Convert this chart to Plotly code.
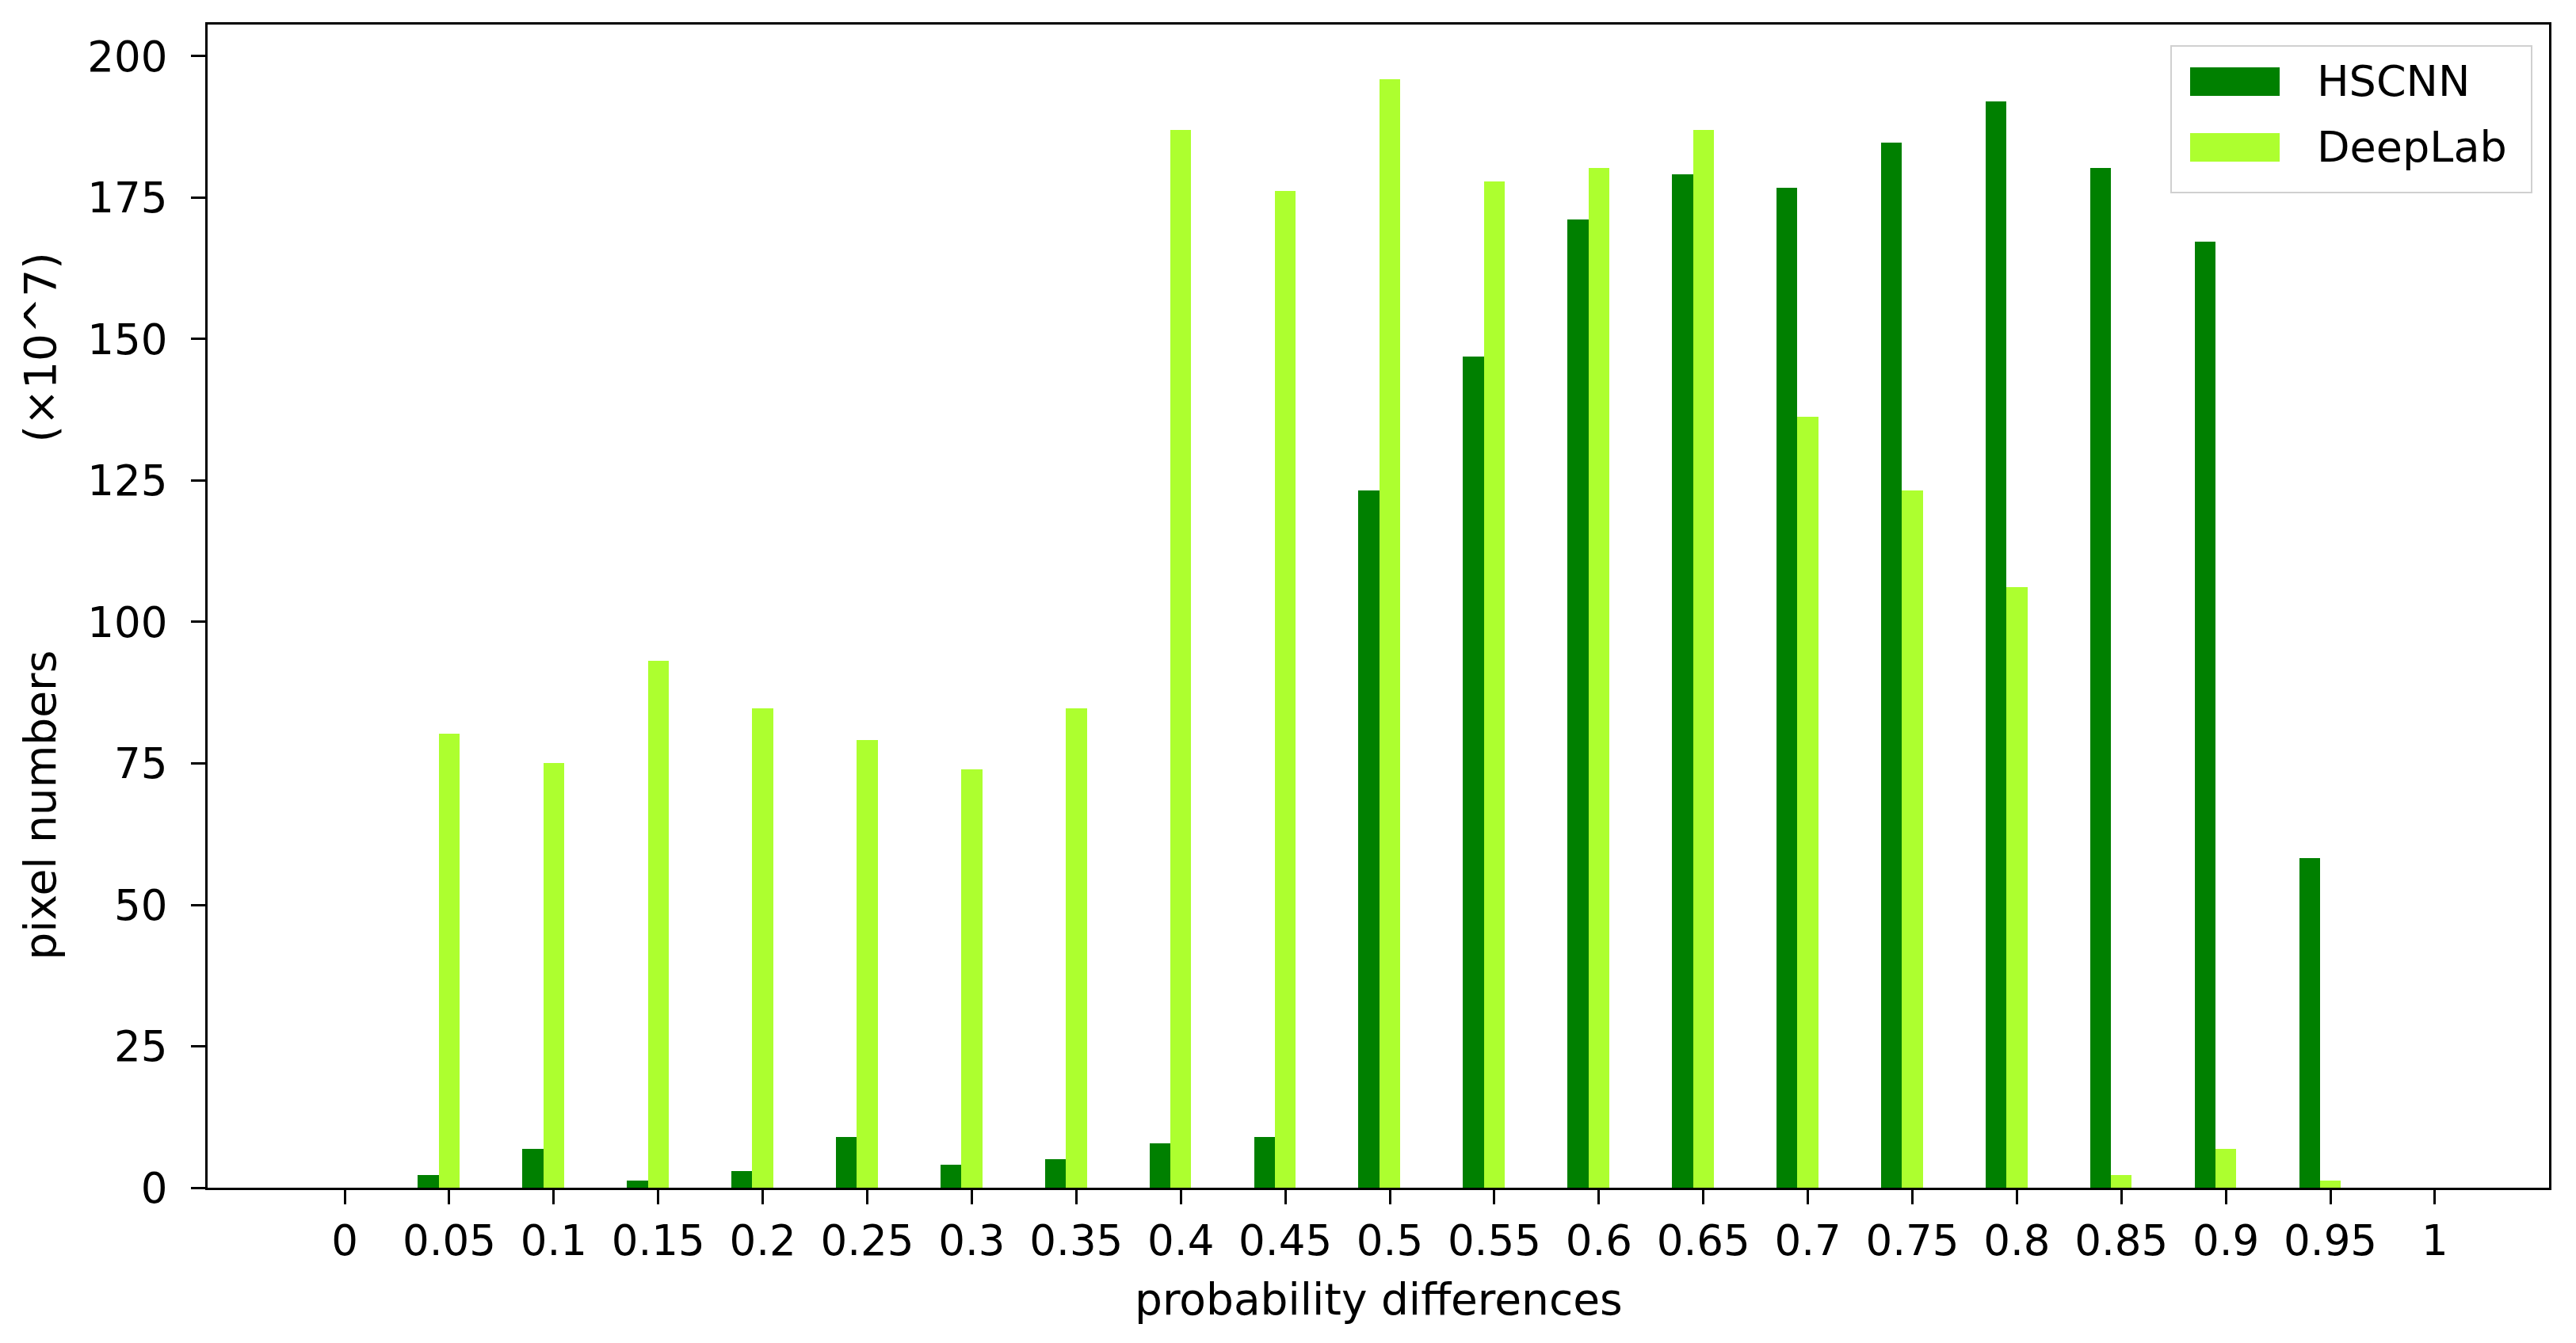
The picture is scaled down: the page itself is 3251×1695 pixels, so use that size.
#!/usr/bin/env python3
# probability differences histogram, HSCNN vs DeepLab
import plotly.graph_objects as go

# ---- data ----
bins = [0, 0.05, 0.1, 0.15, 0.2, 0.25, 0.3, 0.35, 0.4, 0.45, 0.5,
        0.55, 0.6, 0.65, 0.7, 0.75, 0.8, 0.85, 0.9, 0.95, 1]
bin_labels = ["0", "0.05", "0.1", "0.15", "0.2", "0.25", "0.3", "0.35", "0.4", "0.45", "0.5",
              "0.55", "0.6", "0.65", "0.7", "0.75", "0.8", "0.85", "0.9", "0.95", "1"]
hscnn = [0, 2.3, 6.8, 1.2, 2.9, 9.0, 4.0, 5.1, 7.9, 9.0, 123.2,
         146.9, 171.1, 179.1, 176.8, 184.7, 192.0, 180.2, 167.2, 58.2, 0]
deeplab = [0, 80.3, 75.1, 93.2, 84.7, 79.1, 74.0, 84.7, 187.0, 176.2, 196.0,
           177.9, 180.2, 187.0, 136.3, 123.2, 106.1, 2.3, 6.8, 1.2, 0]
y_ticks = [0, 25, 50, 75, 100, 125, 150, 175, 200]
series_names = ["HSCNN", "DeepLab"]

# page body has an 8px margin, so everything is shifted by OFF
OFF = 8
W, H = 3251 - OFF, 1695 - OFF
L, R, T, B = 262 - OFF, 3217 - OFF, 31 - OFF, 1499 - OFF   # plot area in pixels
FONT = "DejaVu Sans"
TICK_FS = 53
LAB_FS = 55
LEG_FS = 54
DARK = "#008000"
LIGHT = "#adff2f"


def px(x, y):
    """reference pixel position -> paper coords"""
    return (x - OFF - L) / (R - L), (B - (y - OFF)) / (B - T)


def main():
    bar_w = 0.01

    fig = go.Figure()
    fig.add_trace(go.Bar(x=bins, y=hscnn, width=bar_w, offset=-1.5 * bar_w,
                         marker=dict(color=DARK, line=dict(width=0)),
                         name=series_names[0], showlegend=False))
    fig.add_trace(go.Bar(x=bins, y=deeplab, width=bar_w, offset=-0.5 * bar_w,
                         marker=dict(color=LIGHT, line=dict(width=0)),
                         name=series_names[1], showlegend=False))

    #-------- legend drawn by hand (matplotlib style patches) --------
    x0, y0 = px(2740, 58)
    x1, y1 = px(3195, 243)
    fig.add_shape(type="rect", xref="paper", yref="paper", x0=x0, y0=y1, x1=x1, y1=y0,
                  line=dict(color="#d0d0d0", width=2), fillcolor="white", layer="above")
    for name, col, cy in zip(series_names, [DARK, LIGHT], [103, 186]):
        a0, b0 = px(2764, cy - 18)
        a1, b1 = px(2877, cy + 18)
        fig.add_shape(type="rect", xref="paper", yref="paper", x0=a0, y0=b1, x1=a1, y1=b0,
                      line=dict(width=0), fillcolor=col, layer="above")
        tx, ty = px(2922, cy)
        fig.add_annotation(x=tx, y=ty, xref="paper", yref="paper", text=name,
                           showarrow=False, xanchor="left", yanchor="middle",
                           font=dict(family=FONT, size=LEG_FS, color="black"))

    # x axis title as annotation (axis title standoff is ignored without automargin)
    _, ty = px(0, 1640)
    fig.add_annotation(x=0.5, y=ty, xref="paper", yref="paper",
                       text="probability differences", showarrow=False,
                       xanchor="center", yanchor="middle",
                       font=dict(family=FONT, size=LAB_FS, color="black"))

    ylabel = "pixel numbers" + "\u00a0" * 15 + "(×10^7)"

    fig.update_layout(
        width=W, height=H,
        margin=dict(l=L, r=W - R, t=T, b=H - B, autoexpand=False),
        paper_bgcolor="white", plot_bgcolor="white",
        barmode="overlay", bargap=0,
        font=dict(family=FONT, size=TICK_FS, color="black"),
        xaxis=dict(range=[-0.0656, 1.0546], tickvals=bins, ticktext=bin_labels,
                   showgrid=False, zeroline=False,
                   showline=True, linecolor="black", linewidth=3, mirror=True,
                   ticks="outside", ticklen=18, tickwidth=3, tickcolor="black",
                   tickfont=dict(family=FONT, size=TICK_FS, color="black")),
        yaxis=dict(range=[0, 205.6], tickvals=y_ticks,
                   showgrid=False, zeroline=False,
                   showline=True, linecolor="black", linewidth=3, mirror=True,
                   ticks="outside", ticklen=18, tickwidth=3, tickcolor="black",
                   ticklabelstandoff=19,
                   tickfont=dict(family=FONT, size=TICK_FS, color="black"),
                   title=dict(text=ylabel, standoff=22,
                              font=dict(family=FONT, size=LAB_FS, color="black"))),
    )

    fig.write_html("out.html")


if __name__ == '__main__':
    main()
